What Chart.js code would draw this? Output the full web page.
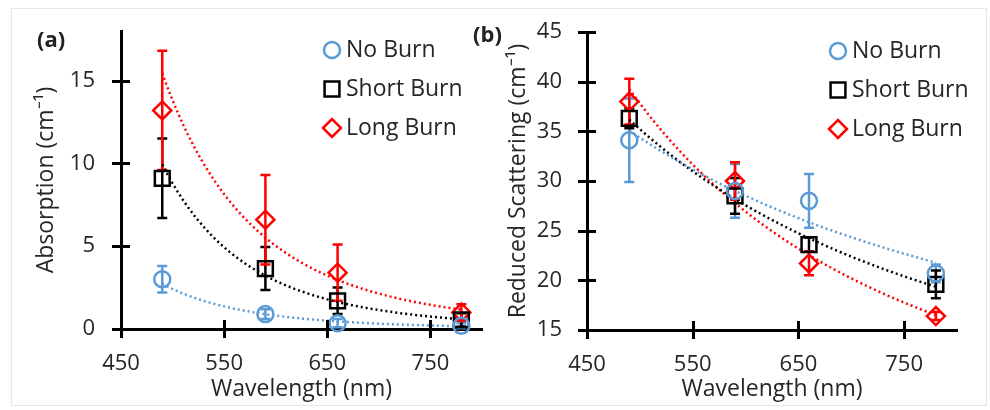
<!DOCTYPE html>
<html>
<head>
<meta charset="utf-8">
<script src="https://cdn.jsdelivr.net/npm/chart.js@4.4.0/dist/chart.umd.min.js"></script>
<style>
  body { margin: 0; background: #fff; }
  #wrap { position: relative; width: 990px; height: 410px; overflow: hidden; }
  .frame { position: absolute; left: 11px; top: 8px; width: 974px; height: 396px; border: 1px solid #e6e6e6; }
  canvas { position: absolute; top: 0; }
  .panel { position: absolute; font: bold 22px "Open Sans", sans-serif; color: #222; }
</style>
</head>
<body>
<div id="wrap">
  <div class="frame"></div>
  <canvas id="chartA" width="495" height="410" style="left:0"></canvas>
  <canvas id="chartB" width="495" height="410" style="left:495px"></canvas>
  <div class="panel" style="left:37px; top:23px">(a)</div>
  <div class="panel" style="left:473px; top:18px">(b)</div>
</div>
<script>
// wavelengths measured (nm)
const wavelengths = [490, 590, 660, 780];
const seriesNames = ["No Burn", "Short Burn", "Long Burn"];

// (a) absorption, cm-1 (mean and error)
const absNoBurn = [3.0, 0.9, 0.35, 0.2];
const absNoBurnErr = [0.8, 0.3, 0.25, 0.15];
const absShortBurn = [9.1, 3.65, 1.7, 0.55];
const absShortBurnErr = [2.4, 1.3, 0.8, 0.4];
const absLongBurn = [13.2, 6.6, 3.4, 1.0];
const absLongBurnErr = [3.6, 2.7, 1.7, 0.5];

// (b) reduced scattering, cm-1
const scatNoBurn = [34.1, 29.0, 28.0, 20.7];
const scatNoBurnErr = [4.2, 2.7, 2.7, 0.9];
const scatShortBurn = [36.3, 28.5, 23.6, 19.6];
const scatShortBurnErr = [1.0, 1.8, 0.7, 1.4];
const scatLongBurn = [38.0, 30.0, 21.7, 16.4];
const scatLongBurnErr = [2.3, 1.9, 1.2, 0.4];

// axis ticks
const xTicks = [450, 550, 650, 750];
const absTicks = [0, 5, 10, 15];
const scatTicks = [15, 20, 25, 30, 35, 40, 45];

const colors = ["#5B9BD5", "#000000", "#FF0000"];
const styles = ["circle", "rect", "rectRot"];
const radii = [8, 10.5, 9];
const textColor = "#262626";
const fontFamily = '"Open Sans", sans-serif';

// power-law trendline (least squares in log-log), like the spreadsheet one
function powerTrend(xs, ys) {
  const n = xs.length;
  const lx = xs.map(Math.log), ly = ys.map(Math.log);
  const mx = lx.reduce((a, b) => a + b) / n;
  const my = ly.reduce((a, b) => a + b) / n;
  let sxy = 0, sxx = 0;
  for (let i = 0; i < n; i++) {
    sxy += (lx[i] - mx) * (ly[i] - my);
    sxx += (lx[i] - mx) ** 2;
  }
  const b = sxy / sxx, a = Math.exp(my - b * mx);
  const pts = [];
  for (let x = xs[0]; x <= xs[n - 1]; x += 5) pts.push({ x: x, y: a * Math.pow(x, b) });
  return pts;
}

function makeDatasets(values, errors) {
  const sets = [];
  values.forEach((vals, i) => {
    sets.push({
      label: seriesNames[i],
      data: wavelengths.map((w, j) => ({ x: w, y: vals[j] })),
      errors: errors[i],
      inLegend: true,
      borderColor: colors[i],
      backgroundColor: "rgba(0,0,0,0)",
      pointStyle: styles[i],
      pointRadius: radii[i],
      pointBorderWidth: 2.5,
      showLine: false,
      clip: false
    });
  });
  values.forEach((vals, i) => {
    sets.push({
      label: seriesNames[i] + " trend",
      data: powerTrend(wavelengths, vals),
      borderColor: colors[i],
      borderWidth: 2.5,
      borderDash: [2, 3],
      pointRadius: 0,
      showLine: true,
      tension: 0
    });
  });
  return sets;
}

const errorBars = {
  id: "errorBars",
  beforeDatasetsDraw(chart) {
    const { ctx, scales: { x, y } } = chart;
    chart.data.datasets.forEach(ds => {
      if (!ds.errors) return;
      ctx.save();
      ctx.strokeStyle = ds.borderColor;
      ctx.lineWidth = 2.5;
      ds.data.forEach((p, i) => {
        const px = x.getPixelForValue(p.x);
        const top = y.getPixelForValue(p.y + ds.errors[i]);
        const bot = y.getPixelForValue(p.y - ds.errors[i]);
        ctx.beginPath();
        ctx.moveTo(px, top); ctx.lineTo(px, bot);
        ctx.moveTo(px - 5, top); ctx.lineTo(px + 5, top);
        ctx.moveTo(px - 5, bot); ctx.lineTo(px + 5, bot);
        ctx.stroke();
      });
      ctx.restore();
    });
  }
};

// tick marks that cross the axis line
const crossTicks = {
  id: "crossTicks",
  afterDraw(chart) {
    const { ctx, chartArea, scales: { x, y } } = chart;
    ctx.save();
    ctx.strokeStyle = "#000";
    ctx.lineWidth = 3;
    ctx.beginPath();
    x.ticks.forEach(t => {
      const px = Math.round(x.getPixelForValue(t.value)) + 0.5;
      ctx.moveTo(px, chartArea.bottom - 9); ctx.lineTo(px, chartArea.bottom + 9);
    });
    y.ticks.forEach(t => {
      const py = Math.round(y.getPixelForValue(t.value)) + 0.5;
      ctx.moveTo(chartArea.left - 9, py); ctx.lineTo(chartArea.left + 9, py);
    });
    ctx.stroke();
    ctx.restore();
  }
};

function drawMarker(ctx, style, r, cx, cy) {
  ctx.beginPath();
  if (style === "circle") {
    ctx.arc(cx, cy, r, 0, Math.PI * 2);
  } else if (style === "rect") {
    const s = r * Math.SQRT1_2;
    ctx.rect(cx - s, cy - s, 2 * s, 2 * s);
  } else {
    ctx.moveTo(cx - r, cy); ctx.lineTo(cx, cy - r);
    ctx.lineTo(cx + r, cy); ctx.lineTo(cx, cy + r);
    ctx.closePath();
  }
  ctx.stroke();
}

const sideLegend = {
  id: "sideLegend",
  afterDraw(chart, args, opts) {
    const ctx = chart.ctx;
    ctx.save();
    ctx.font = "23px " + fontFamily;
    ctx.textBaseline = "middle";
    chart.data.datasets.filter(d => d.inLegend).forEach((d, i) => {
      const cy = opts.y + i * opts.gap;
      ctx.strokeStyle = d.borderColor;
      ctx.lineWidth = 2.5;
      drawMarker(ctx, d.pointStyle, d.pointRadius, opts.x, cy);
      ctx.fillStyle = textColor;
      ctx.fillText(d.label, opts.x + 14, cy);
    });
    ctx.restore();
  }
};

function makeChart(id, values, errors, yMin, yMax, yTicks, yTitle, geo) {
  return new Chart(document.getElementById(id), {
    type: "scatter",
    data: { datasets: makeDatasets(values, errors) },
    options: {
      responsive: false,
      animation: false,
      events: [],
      layout: { padding: { left: 0, right: geo.padRight, top: geo.padTop, bottom: 0 } },
      plugins: {
        legend: { display: false },
        tooltip: { enabled: false },
        sideLegend: { x: geo.legX, y: geo.legY, gap: 39 }
      },
      scales: {
        x: {
          type: "linear",
          min: 450,
          max: 800,
          afterBuildTicks: s => { s.ticks = xTicks.map(v => ({ value: v })); },
          afterFit: s => { s.height = geo.xHeight; s.paddingLeft = 0; s.paddingRight = 0; },
          grid: { display: false, drawTicks: false },
          border: { display: true, color: "#000", width: 3 },
          ticks: { padding: 22, color: textColor, font: { size: 22, family: fontFamily } },
          title: {
            display: true, text: "Wavelength (nm)", color: textColor,
            font: { size: 23, family: fontFamily }, padding: { top: 0, bottom: 7 }
          }
        },
        y: {
          min: yMin,
          max: yMax,
          afterBuildTicks: s => { s.ticks = yTicks.map(v => ({ value: v })); },
          afterFit: s => { s.width = geo.yWidth; s.paddingTop = 0; s.paddingBottom = 0; },
          grid: { display: false, drawTicks: false },
          border: { display: true, color: "#000", width: 3 },
          ticks: { padding: geo.yPad, color: textColor, font: { size: 22, family: fontFamily } },
          title: {
            display: true, text: yTitle, color: textColor,
            font: { size: 23, family: fontFamily }, padding: { top: geo.yTitlePad, bottom: 0 }
          }
        }
      }
    },
    plugins: [errorBars, crossTicks, sideLegend]
  });
}

makeChart("chartA",
  [absNoBurn, absShortBurn, absLongBurn],
  [absNoBurnErr, absShortBurnErr, absLongBurnErr],
  0, 18, absTicks, "Absorption (cm\u207B\u00B9)",
  { padRight: 5, padTop: 31, xHeight: 81, yWidth: 121, yPad: 26, yTitlePad: 33, legX: 332, legY: 50 });

makeChart("chartB",
  [scatNoBurn, scatShortBurn, scatLongBurn],
  [scatNoBurnErr, scatShortBurnErr, scatLongBurnErr],
  15, 45, scatTicks, "Reduced Scattering (cm\u207B\u00B9)",
  { padRight: 33, padTop: 32, xHeight: 80, yWidth: 92, yPad: 25, yTitlePad: 10, legX: 343, legY: 51 });
</script>
</body>
</html>
